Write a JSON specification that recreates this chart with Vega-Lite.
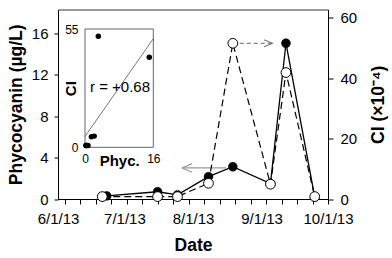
{
  "$schema": "https://vega.github.io/schema/vega-lite/v6.json",
  "width": 270,
  "height": 189.5,
  "autosize": {"type": "none"},
  "padding": {"left": 58, "top": 9.5, "right": 64, "bottom": 59},
  "config": {
    "font": "Liberation Sans",
    "view": {"stroke": "#333", "strokeWidth": 1},
    "axis": {"grid": false, "domainColor": "#000", "tickColor": "#000", "labelColor": "#000", "titleColor": "#000", "titleFontWeight": "bold", "labelFontWeight": "normal"}
  },
  "datasets": {
    "samples": [
      {"date_phyc": "2013-06-23", "phyc": 0.3, "date_ci": "2013-06-21", "ci": 0.8},
      {"date_phyc": "2013-07-16", "phyc": 0.7, "date_ci": "2013-07-16", "ci": 0.8},
      {"date_phyc": "2013-07-25", "phyc": 0.4, "date_ci": "2013-07-25", "ci": 0.8},
      {"date_phyc": "2013-08-08", "phyc": 2.16, "date_ci": "2013-08-08", "ci": 5.2},
      {"date_phyc": "2013-08-19", "phyc": 3.12, "date_ci": "2013-08-19", "ci": 51.6},
      {"date_phyc": "2013-09-05", "phyc": 1.5, "date_ci": "2013-09-05", "ci": 4.9},
      {"date_phyc": "2013-09-12", "phyc": 15.06, "date_ci": "2013-09-12", "ci": 41.9},
      {"date_phyc": "2013-09-25", "phyc": 0.2, "date_ci": "2013-09-25", "ci": 0.8}
    ],
    "arrows": [
      {"axis": "left", "from": "2013-08-16", "to": "2013-07-27", "level": 3.0},
      {"axis": "right", "from": "2013-08-19", "to": "2013-09-06", "level": 51.6}
    ],
    "note": [
      {"label": "r = +0.68"}
    ]
  },
  "resolve": {"scale": {"x": "independent", "y": "independent"}},
  "layer": [
    {
      "data": {"name": "samples"},
      "mark": {"type": "point", "opacity": 0},
      "encoding": {
        "x": {"field": "date_phyc", "type": "temporal", "title": null,
          "scale": {"type": "utc", "domain": [{"year": 2013, "month": 6, "date": 1, "utc": true}, {"year": 2013, "month": 10, "date": 1, "utc": true}], "nice": false},
          "axis": {"orient": "bottom", "values": [1370304000000, 1370908800000, 1371513600000, 1372118400000, 1372723200000, 1373328000000, 1373932800000, 1374537600000, 1375142400000, 1375747200000, 1376352000000, 1376956800000, 1377561600000, 1378166400000, 1378771200000, 1379376000000, 1379980800000, 1380585600000],
            "labels": false, "domain": false, "tickSize": 5, "title": null}}
      }
    },
    {
      "resolve": {"scale": {"y": "independent"}},
      "layer": [
        {
          "layer": [
            {
              "data": {"name": "samples"},
              "mark": {"type": "line", "stroke": "#000", "strokeWidth": 1.3},
              "encoding": {
                "x": {"field": "date_phyc", "type": "temporal", "title": "Date",
                  "scale": {"type": "utc", "domain": [{"year": 2013, "month": 6, "date": 1, "utc": true}, {"year": 2013, "month": 10, "date": 1, "utc": true}], "nice": false},
                  "axis": {"orient": "bottom", "values": [1370044800000, 1372636800000, 1375315200000, 1377993600000, 1380585600000],
                    "labelExpr": "utcFormat(datum.value, '%-m/%-d/%y')",
                    "ticks": false, "labelPadding": 12, "labelFontSize": 15, "labelFlush": false, "labelOverlap": false, "labelBound": false,
                    "titleFontSize": 17.5, "titleY": 46, "titleBaseline": "middle"}},
                "y": {"field": "phyc", "type": "quantitative", "title": "Phycocyanin (µg/L)",
                  "scale": {"domain": [0, 18.32], "nice": false},
                  "axis": {"orient": "left", "values": [0, 4, 8, 12, 16], "tickSize": 4, "labelPadding": 6, "labelFontSize": 15, "titleFontSize": 17.5, "titleX": -42, "titleBaseline": "middle", "titleAngle": 270}}
              }
            },
            {
              "data": {"name": "arrows"},
              "transform": [{"filter": "datum.axis == 'left'"}],
              "mark": {"type": "rule", "stroke": "#999", "strokeWidth": 1.2},
              "encoding": {
                "x": {"field": "from", "type": "temporal", "title": "Date", "scale": {"type": "utc", "domain": [{"year": 2013, "month": 6, "date": 1, "utc": true}, {"year": 2013, "month": 10, "date": 1, "utc": true}], "nice": false}},
                "x2": {"field": "to"},
                "y": {"field": "level", "type": "quantitative", "title": "Phycocyanin (µg/L)", "scale": {"domain": [0, 18.32], "nice": false}}
              }
            },
            {
              "data": {"name": "arrows"},
              "transform": [{"filter": "datum.axis == 'left'"}],
              "mark": {"type": "point", "shape": "M0,0L1,-0.42M0,0L1,0.42", "size": 420, "filled": false, "stroke": "#999", "strokeWidth": 1.2, "opacity": 1},
              "encoding": {
                "x": {"field": "to", "type": "temporal", "title": "Date", "scale": {"type": "utc", "domain": [{"year": 2013, "month": 6, "date": 1, "utc": true}, {"year": 2013, "month": 10, "date": 1, "utc": true}], "nice": false}},
                "y": {"field": "level", "type": "quantitative", "title": "Phycocyanin (µg/L)", "scale": {"domain": [0, 18.32], "nice": false}}
              }
            },
            {
              "data": {"name": "samples"},
              "mark": {"type": "circle", "size": 80, "fill": "#000", "stroke": "#000", "strokeWidth": 0.5, "opacity": 1},
              "encoding": {
                "x": {"field": "date_phyc", "type": "temporal", "title": "Date", "scale": {"type": "utc", "domain": [{"year": 2013, "month": 6, "date": 1, "utc": true}, {"year": 2013, "month": 10, "date": 1, "utc": true}], "nice": false}},
                "y": {"field": "phyc", "type": "quantitative", "title": "Phycocyanin (µg/L)", "scale": {"domain": [0, 18.32], "nice": false}}
              }
            }
          ]
        },
        {
          "layer": [
            {
              "data": {"name": "arrows"},
              "transform": [{"filter": "datum.axis == 'right'"}],
              "mark": {"type": "rule", "stroke": "#666", "strokeWidth": 1, "strokeDash": [4, 3]},
              "encoding": {
                "x": {"field": "from", "type": "temporal", "title": "Date", "scale": {"type": "utc", "domain": [{"year": 2013, "month": 6, "date": 1, "utc": true}, {"year": 2013, "month": 10, "date": 1, "utc": true}], "nice": false}},
                "x2": {"field": "to"},
                "y": {"field": "level", "type": "quantitative", "title": "CI (×10⁻⁴)",
                  "scale": {"domain": [0, 62.8], "nice": false},
                  "axis": {"orient": "right", "values": [0, 10, 20, 30, 40, 50, 60], "tickSize": 5, "labelPadding": 7, "labelFontSize": 15, "titleFontSize": 17.5, "titleX": 50, "titleBaseline": "middle", "titleAngle": 270}}
              }
            },
            {
              "data": {"name": "arrows"},
              "transform": [{"filter": "datum.axis == 'right'"}],
              "mark": {"type": "point", "shape": "M0,0L-1,-0.4M0,0L-1,0.4", "size": 300, "filled": false, "stroke": "#666", "strokeWidth": 1, "opacity": 1},
              "encoding": {
                "x": {"field": "to", "type": "temporal", "title": "Date", "scale": {"type": "utc", "domain": [{"year": 2013, "month": 6, "date": 1, "utc": true}, {"year": 2013, "month": 10, "date": 1, "utc": true}], "nice": false}},
                "y": {"field": "level", "type": "quantitative", "title": "CI (×10⁻⁴)", "scale": {"domain": [0, 62.8], "nice": false}}
              }
            },
            {
              "data": {"name": "samples"},
              "mark": {"type": "line", "stroke": "#000", "strokeWidth": 1.2, "strokeDash": [7, 4]},
              "encoding": {
                "x": {"field": "date_ci", "type": "temporal", "title": "Date", "scale": {"type": "utc", "domain": [{"year": 2013, "month": 6, "date": 1, "utc": true}, {"year": 2013, "month": 10, "date": 1, "utc": true}], "nice": false}},
                "y": {"field": "ci", "type": "quantitative", "title": "CI (×10⁻⁴)", "scale": {"domain": [0, 62.8], "nice": false}}
              }
            },
            {
              "data": {"name": "samples"},
              "mark": {"type": "point", "shape": "circle", "size": 95, "filled": true, "fill": "#fff", "stroke": "#000", "strokeWidth": 1, "opacity": 1},
              "encoding": {
                "x": {"field": "date_ci", "type": "temporal", "title": "Date", "scale": {"type": "utc", "domain": [{"year": 2013, "month": 6, "date": 1, "utc": true}, {"year": 2013, "month": 10, "date": 1, "utc": true}], "nice": false}},
                "y": {"field": "ci", "type": "quantitative", "title": "CI (×10⁻⁴)", "scale": {"domain": [0, 62.8], "nice": false}}
              }
            }
          ]
        }
      ]
    },
    {
      "layer": [
        {
          "data": {"name": "note"},
          "mark": {"type": "rect", "fill": "transparent", "stroke": "#666", "strokeWidth": 1},
          "encoding": {
            "x": {"datum": 0, "type": "quantitative", "title": "Phyc.",
              "scale": {"domain": [0, 16], "range": [27, 95.3], "nice": false, "zero": false},
              "axis": {"orient": "bottom", "offset": -51.7, "values": [0, 16], "domain": false, "ticks": false, "labelFontSize": 12, "labelPadding": 6, "labelFlush": false, "titleFontSize": 15, "titleY": 13, "titleBaseline": "middle"}},
            "x2": {"datum": 16},
            "y": {"datum": 0, "type": "quantitative", "title": "CI",
              "scale": {"domain": [0, 55], "range": [137.8, 19.5], "nice": false, "zero": false},
              "axis": {"orient": "left", "offset": -27, "values": [0, 55], "domain": false, "ticks": false, "labelFontSize": 12, "labelPadding": 7, "titleFontSize": 15, "titleX": -15, "titleBaseline": "middle", "titleAngle": 270}},
            "y2": {"datum": 55}
          }
        },
        {
          "data": {"name": "samples"},
          "transform": [{"regression": "ci", "on": "phyc", "extent": [0, 16]}],
          "mark": {"type": "line", "stroke": "#555", "strokeWidth": 0.8},
          "encoding": {
            "x": {"field": "phyc", "type": "quantitative", "title": "Phyc.", "scale": {"domain": [0, 16], "range": [27, 95.3], "nice": false, "zero": false}},
            "y": {"field": "ci", "type": "quantitative", "title": "CI", "scale": {"domain": [0, 55], "range": [137.8, 19.5], "nice": false, "zero": false}}
          }
        },
        {
          "data": {"name": "samples"},
          "mark": {"type": "circle", "size": 30, "fill": "#000", "opacity": 1},
          "encoding": {
            "x": {"field": "phyc", "type": "quantitative", "title": "Phyc.", "scale": {"domain": [0, 16], "range": [27, 95.3], "nice": false, "zero": false}},
            "y": {"field": "ci", "type": "quantitative", "title": "CI", "scale": {"domain": [0, 55], "range": [137.8, 19.5], "nice": false, "zero": false}}
          }
        },
        {
          "data": {"name": "note"},
          "mark": {"type": "text", "fontSize": 15, "align": "center", "baseline": "middle", "fill": "#000"},
          "encoding": {
            "x": {"datum": 8.2, "type": "quantitative", "title": "Phyc.", "scale": {"domain": [0, 16], "range": [27, 95.3], "nice": false, "zero": false}},
            "y": {"datum": 28, "type": "quantitative", "title": "CI", "scale": {"domain": [0, 55], "range": [137.8, 19.5], "nice": false, "zero": false}},
            "text": {"field": "label"}
          }
        }
      ]
    }
  ]
}
